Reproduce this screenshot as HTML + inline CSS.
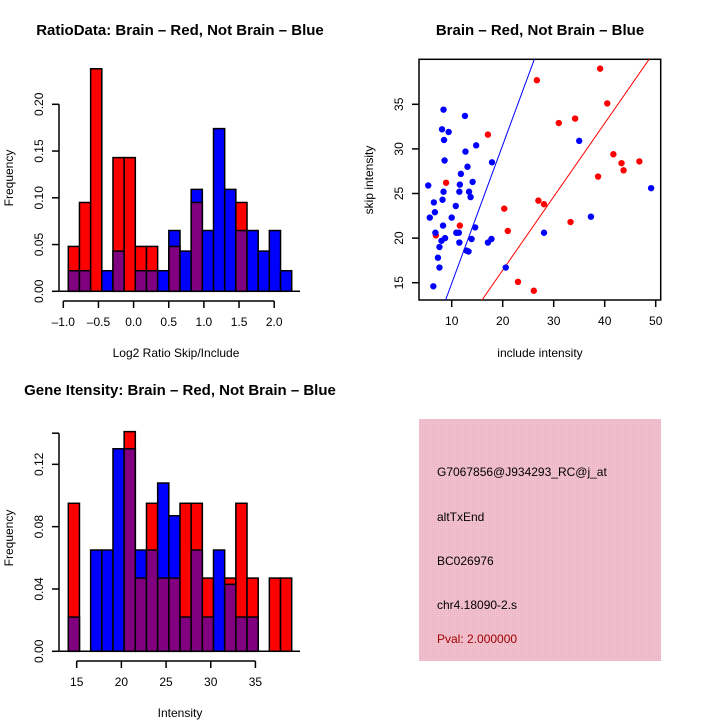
<!DOCTYPE html>
<html><head><meta charset="utf-8"><style>
body{margin:0;background:#fff}
svg{display:block;font-family:"Liberation Sans",sans-serif}
</style></head><body>
<svg id="c" width="720" height="720" viewBox="0 0 720 720">
<rect width="720" height="720" fill="#fff"/>
<defs><pattern id="pk" width="2" height="2" patternUnits="userSpaceOnUse"><rect width="2" height="2" fill="#f2bfcc"/><rect width="1" height="1" fill="#e8b4c4"/></pattern></defs>
<text x="180" y="35" font-size="15" font-weight="bold" text-anchor="middle">RatioData: Brain – Red, Not Brain – Blue</text>
<text x="540" y="35" font-size="15" font-weight="bold" text-anchor="middle">Brain – Red, Not Brain – Blue</text>
<text x="180" y="395" font-size="15" font-weight="bold" text-anchor="middle">Gene Itensity: Brain – Red, Not Brain – Blue</text>
<text x="176" y="357" font-size="12" text-anchor="middle">Log2 Ratio Skip/Include</text>
<text x="540" y="357" font-size="12" text-anchor="middle">include intensity</text>
<text x="180" y="717" font-size="12" text-anchor="middle">Intensity</text>
<text transform="translate(13,178) rotate(-90)" font-size="12" text-anchor="middle">Frequency</text>
<text transform="translate(373,180) rotate(-90)" font-size="12" text-anchor="middle">skip intensity</text>
<text transform="translate(13,538) rotate(-90)" font-size="12" text-anchor="middle">Frequency</text>
<g id="g1"></g><g id="g2"></g><g id="g3"></g>
<rect x="419" y="419" width="242" height="242" fill="url(#pk)"/>
<g font-size="12">
<text x="437" y="476">G7067856@J934293_RC@j_at</text>
<text x="437" y="521">altTxEnd</text>
<text x="437" y="565">BC026976</text>
<text x="437" y="609">chr4.18090-2.s</text>
<text x="437" y="643" fill="#a00000">Pval: 2.000000</text>
</g>
</svg>
<script>
// Ratio histogram data
const ratioStart=-0.929, ratioWidth=0.1589;
const ratioRed=[0.048,0.095,0.238,0,0.143,0.143,0.048,0.048,0,0.048,0,0.095,0,0,0,0.095,0,0,0,0];
const ratioBlue=[0.022,0.022,0,0.022,0.043,0,0.022,0.022,0.022,0.065,0.043,0.109,0.065,0.174,0.109,0.065,0.065,0.043,0.065,0.022];
const ratioXTicks=[-1.0,-0.5,0.0,0.5,1.0,1.5,2.0];
const ratioYTicks=[0,0.05,0.10,0.15,0.20];
// Intensity histogram data
const intStart=14.06, intWidth=1.25;
const intRed=[0.095,0,0,0,0,0.141,0.047,0.095,0.047,0.047,0.095,0.095,0.047,0,0.047,0.095,0.047,0,0.047,0.047];
const intBlue=[0.022,0,0.065,0.065,0.130,0.130,0.065,0.065,0.108,0.087,0.022,0.065,0.022,0.065,0.043,0.022,0.022,0,0,0];
const intXTicks=[15,20,25,30,35];
const intYTicks=[0,0.04,0.08,0.12,0.14];
const intYLabels=["0.00","0.04","0.08","0.12",""];
// Scatter data
const blueX=[5.4,5.7,6.5,6.7,6.8,6.4,7.6,7.3,7.6,8.0,8.7,8.3,8.2,8.4,8.6,8.5,8.1,9.4,8.4,10,10.8,10.9,11.4,11.5,11.5,11.6,11.8,12.7,12.6,13.1,12.9,13.3,13.4,13.7,13.9,14.1,14.6,14.8,17.1,17.8,17.9,20.6,28.1,35.0,37.3,49.1];
const blueY=[25.9,22.3,24.0,22.9,20.6,14.6,19.0,17.8,16.7,19.7,20.0,21.4,24.3,25.2,28.7,31.0,32.2,31.9,34.4,22.3,23.6,20.6,20.6,19.5,25.2,26.0,27.2,29.7,33.7,28.0,18.6,18.5,25.2,24.6,19.9,26.3,21.2,30.4,19.5,19.9,28.5,16.7,20.6,30.9,22.4,25.6];
const redX=[8.9,6.9,11.6,17.1,20.3,21.0,23.0,26.1,26.7,27.0,28.1,31.0,33.3,34.2,38.7,39.1,40.5,41.7,43.3,43.7,46.8];
const redY=[26.2,20.3,21.4,31.6,23.3,20.8,15.1,14.1,37.7,24.2,23.8,32.9,21.8,33.4,26.9,39.0,35.1,29.4,28.4,27.6,28.6];
const scXTicks=[10,20,30,40,50];
const scYTicks=[15,20,25,30,35];
const blueLine=[[8.8,13.06],[26.2,40.04]];
const redLine=[[15.94,13.06],[48.7,40.04]];

const NS="http://www.w3.org/2000/svg";
function mk(p,tag,a){const e=document.createElementNS(NS,tag);for(const k in a)e.setAttribute(k,a[k]);p.appendChild(e);return e;}

function histo(g,start,w,red,blue,xs,ys,yl,pxStart,pxEnd,y0px,yUnitPx,xtickY,prefix,fmt){
  const n=red.length;
  const vx=v=>pxStart+(v-start)/(w*n)*(pxEnd-pxStart);
  const vy=v=>y0px-v*yUnitPx;
  for(let i=0;i<n;i++){
    const a=start+i*w,b=a+w,r=red[i],bl=blue[i];
    const hi=Math.max(r,bl),lo=Math.min(r,bl);
    if(hi>0){const e=mk(g,'rect',{x:vx(a),y:vy(hi),width:vx(b)-vx(a),height:vy(0)-vy(hi),fill:r>=bl?'#ff0000':'#0000ff',stroke:'#000','stroke-width':1.5});
      
      }
    if(lo>0){const e=mk(g,'rect',{x:vx(a),y:vy(lo),width:vx(b)-vx(a),height:vy(0)-vy(lo),fill:'#800080',stroke:'#000','stroke-width':1.5});
      
      }
  }
  mk(g,'path',{d:`M${pxStart-9} ${y0px}H300`,stroke:'#000','stroke-width':1.5});
  mk(g,'path',{d:`M${vx(xs[0])} ${xtickY}H${vx(xs[xs.length-1])}`,stroke:'#000','stroke-width':1.5});
  xs.forEach(v=>{mk(g,'path',{d:`M${vx(v)} ${xtickY}v7`,stroke:'#000','stroke-width':1.5});
    const t=mk(g,'text',{x:vx(v),y:xtickY+25,'font-size':12,'text-anchor':'middle'});t.textContent=fmt(v);
    
    });
  const X=59;
  mk(g,'path',{d:`M${X} ${vy(ys[0])}V${vy(ys[ys.length-1])}`,stroke:'#000','stroke-width':1.5});
  ys.forEach((v,i)=>{mk(g,'path',{d:`M${X} ${vy(v)}h-7`,stroke:'#000','stroke-width':1.5});
    const t=mk(g,'text',{transform:`translate(${X-16},${vy(v)}) rotate(-90)`,'font-size':12,'text-anchor':'middle'});t.textContent=yl[i];
    
    });
}
histo(document.getElementById('g1'),ratioStart,ratioWidth,ratioRed,ratioBlue,ratioXTicks,ratioYTicks,["0.00","0.05","0.10","0.15","0.20"],68.3,291.7,291.3,935,301,'ratio',v=>v.toFixed(1).replace('-','–'));
histo(document.getElementById('g3'),intStart,intWidth,intRed,intBlue,intXTicks,intYTicks,intYLabels,68.3,291.7,651.3,1558,661,'int',v=>String(v));

(function(){
  const g=document.getElementById('g2');
  const L=419,R=660.7,T=59.3,B=300;
  const sx=v=>451.7+(v-10)*5.1;
  const sy=v=>282.7-(v-15)*8.92;
  mk(g,'rect',{x:L,y:T,width:R-L,height:B-T,fill:'none',stroke:'#000','stroke-width':1.5});
  const cp=mk(g,'clipPath',{id:'scclip'});mk(cp,'rect',{x:L,y:T,width:R-L,height:B-T});
  [[blueLine,'#0000ff','blue-fit-line'],[redLine,'#ff0000','red-fit-line']].forEach(([ln,c,n])=>{
    const e=mk(g,'line',{x1:sx(ln[0][0]),y1:sy(ln[0][1]),x2:sx(ln[1][0]),y2:sy(ln[1][1]),stroke:c,'stroke-width':1,'clip-path':'url(#scclip)'});
    
    });
  redX.forEach((x,i)=>{const e=mk(g,'circle',{cx:sx(x),cy:sy(redY[i]),r:3.2,fill:'#ff0000'});
    
    });
  blueX.forEach((x,i)=>{const e=mk(g,'circle',{cx:sx(x),cy:sy(blueY[i]),r:3.2,fill:'#0000ff'});
    
    });
  scXTicks.forEach(v=>{mk(g,'path',{d:`M${sx(v)} ${B}v7`,stroke:'#000','stroke-width':1.5});
    const t=mk(g,'text',{x:sx(v),y:B+25,'font-size':12,'text-anchor':'middle'});t.textContent=v;
    
    });
  scYTicks.forEach(v=>{mk(g,'path',{d:`M${L} ${sy(v)}h-7`,stroke:'#000','stroke-width':1.5});
    const t=mk(g,'text',{transform:`translate(${L-16},${sy(v)}) rotate(-90)`,'font-size':12,'text-anchor':'middle'});t.textContent=v;
    
    });
})();
</script>
</body></html>
